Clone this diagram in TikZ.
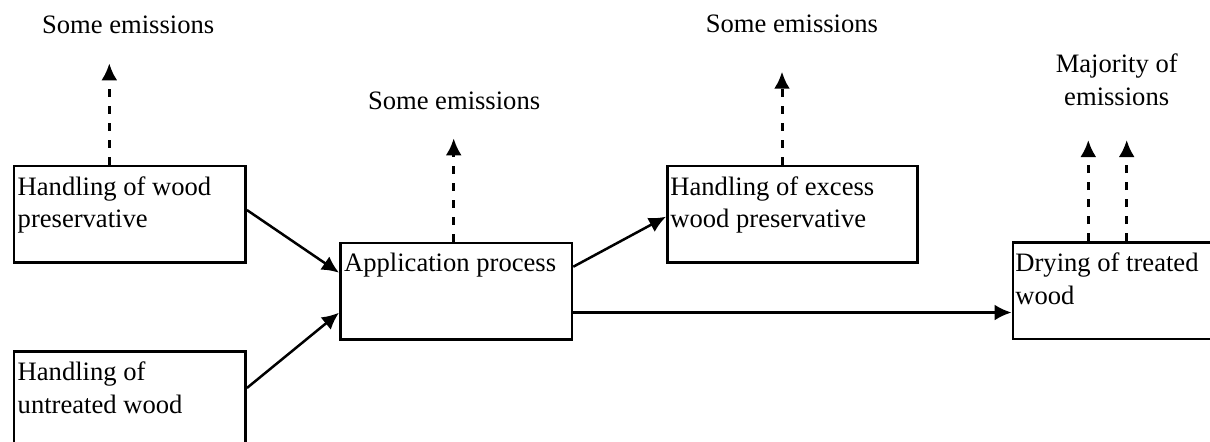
\documentclass[tikz,border=0pt]{standalone}
\usepackage{fontspec}
\setmainfont{Liberation Serif}
\usetikzlibrary{arrows.meta,calc}
\begin{document}
\begin{tikzpicture}[x=0.5pt,y=-0.5pt,
  box/.style={draw, line width=1.3pt, rectangle, inner sep=0pt, anchor=north west},
  txt/.style={anchor=north west, inner sep=0pt, align=left, font=\fontsize{13.3}{16.2}\selectfont},
  flow/.style={line width=1.25pt, -{Latex[length=8.5pt,width=8pt]}},
  emis/.style={line width=1.5pt, dash pattern=on 4pt off 4.5pt, -{Latex[length=8.5pt,width=8pt]}}]
\useasboundingbox (0,0) rectangle (1210,441);
% boxes
\node[box, minimum width=115.8pt, minimum height=48.15pt] (b1) at (12.7,164.7) {};
\node[box, minimum width=115.8pt, minimum height=64.9pt] (b2) at (12.7,350.3) {};
\node[box, minimum width=115.85pt, minimum height=48.3pt] (b3) at (339,241.7) {};
\node[box, minimum width=125pt, minimum height=48.25pt] (b4) at (666,164.5) {};
\node[box, minimum width=124.25pt, minimum height=48.25pt] (b5) at (1011.5,241.2) {};
% box texts
\node[txt] (t1) at (17.3,176) {Handling of wood\\preservative};
\node[txt] (t2) at (17.3,361.8) {Handling of\\untreated wood};
\node[txt] (t3) at (343.7,252.5) {Application process};
\node[txt] (t4) at (670,176) {Handling of excess\\wood preservative};
\node[txt] (t5) at (1015,252.8) {Drying of treated\\wood};
% emission labels
\node[txt] (l1) at (41.7,15.8) {Some emissions};
\node[txt] (l2) at (367.6,91) {Some emissions};
\node[txt] (l3) at (705.5,14) {Some emissions};
\node[txt, anchor=north, align=center] (l4) at (1116.7,53.5) {Majority of\\emissions};
% emission arrow tips
\coordinate (e1) at (109.3,63.3);
\coordinate (e3) at (453.7,138.3);
\coordinate (e4) at (782,71.7);
\coordinate (e5a) at (1088.3,140);
\coordinate (e5b) at (1126.7,140);
% flows
\draw[flow] ($(b1.north east)+(0,45.3)$) -- ($(b3.north west)+(0,31)$);
\draw[flow] ($(b2.north east)+(0,37.7)$) -- ($(b3.north west)+(0,71)$);
\draw[flow] ($(b3.north east)+(0,25)$) -- ($(b4.north west)+(0,52.2)$);
\draw[flow] ($(b3.north east)+(0,70.8)$) -- ($(b5.north west)+(0,71.3)$);
% emissions
\draw[emis] ($(b1.north west)+(96.6,0)$) -- (e1);
\draw[emis] ($(b3.north west)+(114.7,0)$) -- (e3);
\draw[emis] ($(b4.north west)+(116,0)$) -- (e4);
\draw[emis] ($(b5.north west)+(76.8,0)$) -- (e5a);
\draw[emis] ($(b5.north west)+(115.2,0)$) -- (e5b);
\end{tikzpicture}
\end{document}
